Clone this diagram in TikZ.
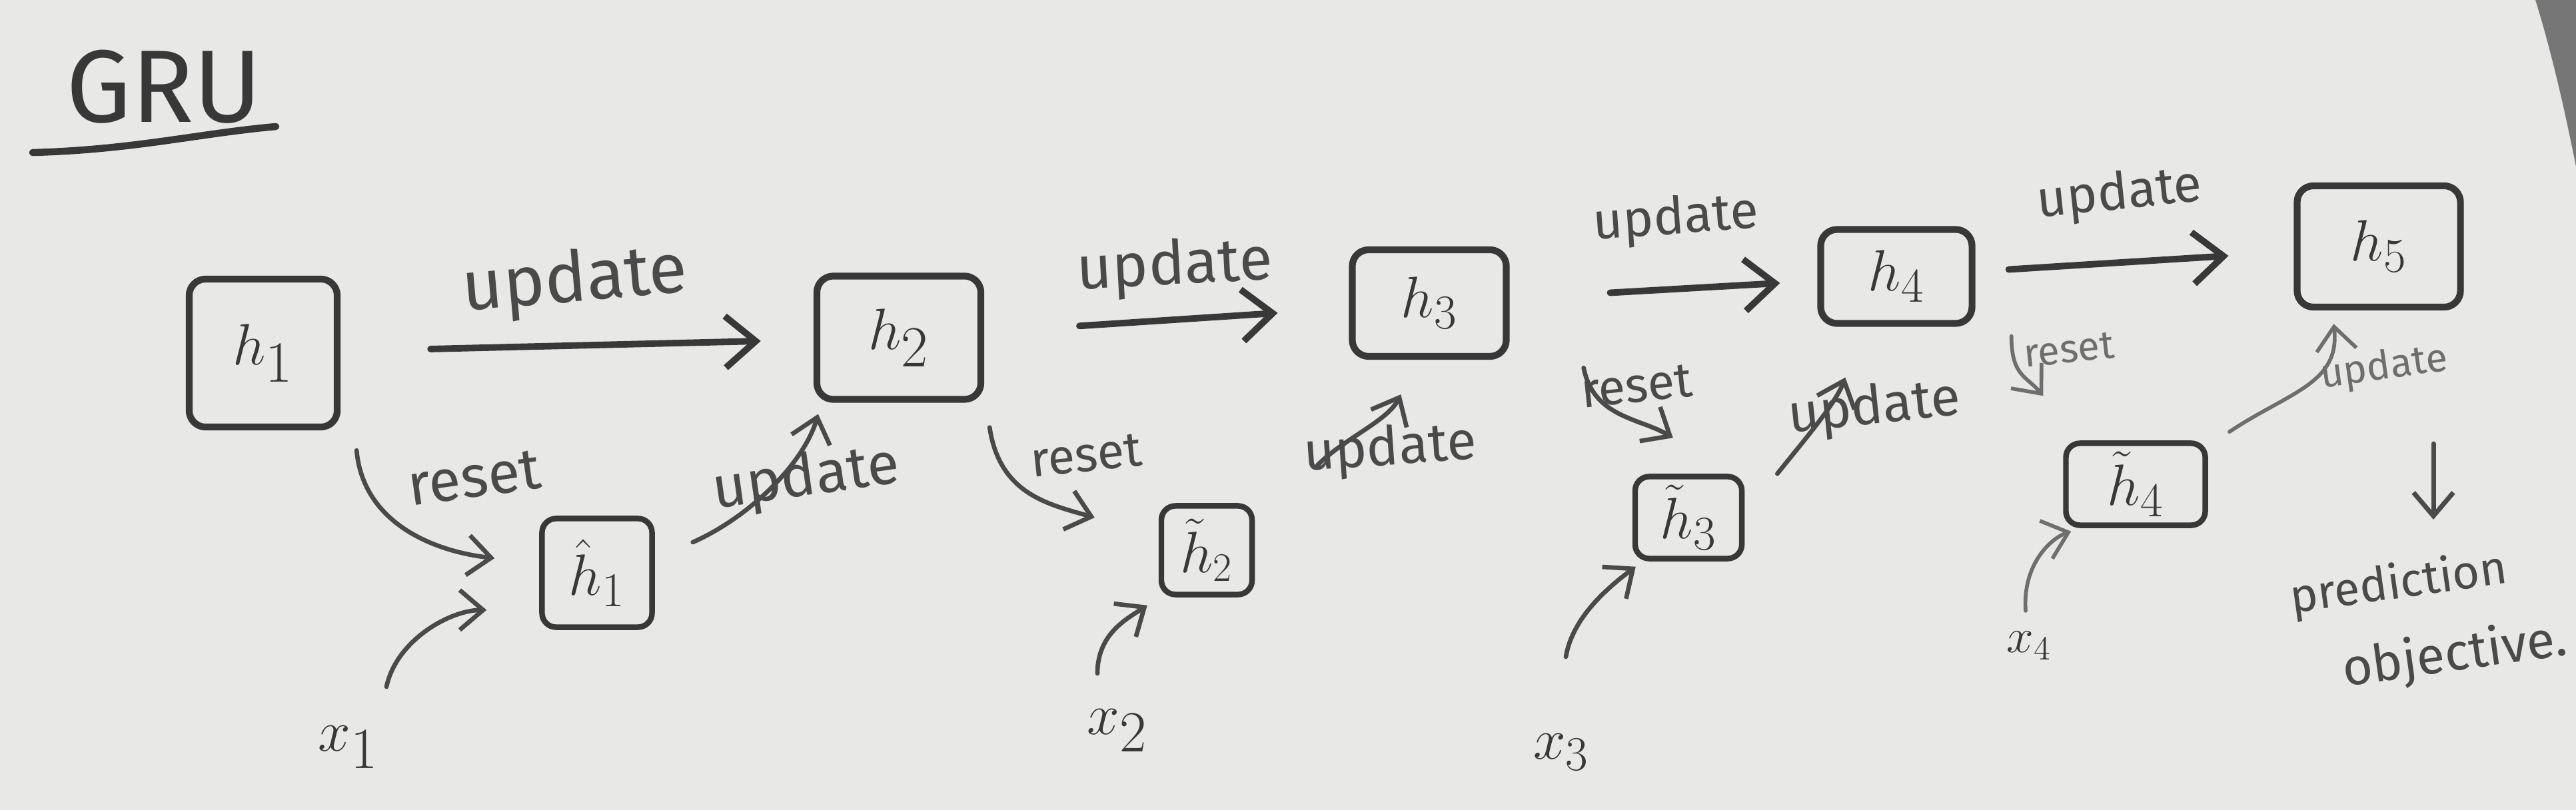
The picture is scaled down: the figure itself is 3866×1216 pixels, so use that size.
\documentclass[tikz,border=0pt]{standalone}
\usepackage{fontspec}
\setmainfont{Fira Sans}
\usetikzlibrary{arrows.meta}
\definecolor{paper}{HTML}{E8E8E6}
\definecolor{pencil}{HTML}{383838}
\definecolor{pencilB}{HTML}{4A4A4A}
\definecolor{pencilC}{HTML}{6E6E6E}
\definecolor{shadow}{HTML}{767676}
\newcommand{\fsz}[1]{\fontsize{#1}{#1}\selectfont}
\begin{document}
\begin{tikzpicture}[x=0.01cm,y=-0.01cm,
  box/.style={draw=pencil, line width=2.9pt, rounded corners=7pt, inner sep=0pt, text=pencil},
  sbox/.style={box, line width=2.4pt, rounded corners=6pt},
  toparrow/.style={draw=pencil, line width=2.8pt, line cap=round,
    -{Straight Barb[length=13pt,width=22pt]}},
  gate/.style={draw=pencilB, line width=1.9pt, line cap=round,
    -{Straight Barb[length=10pt,width=17pt]}},
  faintgate/.style={gate, draw=pencilC, line width=1.6pt},
  word/.style={text=pencilB, inner sep=1pt},
  faintword/.style={text=pencilC, inner sep=1pt},
  inlbl/.style={text=pencil, inner sep=1pt}
]
\path[fill=paper] (0,0) rectangle (3866,1216);
\useasboundingbox (0,0) rectangle (3866,1216);
\fill[shadow] (3805,0) .. controls (3830,80) and (3850,170) .. (3866,250) -- (3866,0) -- cycle;

% title
\node[text=pencil, inner sep=0pt, font=\fsz{44}] (title) at (246,130) {GRU};
\draw[pencil, line width=3pt, line cap=round] (49,229) .. controls (200,225) and (300,200) .. (414,190);

% hidden states
\node[box, minimum width=2.22cm, minimum height=2.22cm, font=\fsz{36}] (h1) at (395,530) {$h_1$};
\node[box, minimum width=2.46cm, minimum height=1.85cm, font=\fsz{34}] (h2) at (1349,507) {$h_2$};
\node[box, minimum width=2.31cm, minimum height=1.60cm, font=\fsz{32}] (h3) at (2145,455) {$h_3$};
\node[box, minimum width=2.27cm, minimum height=1.41cm, font=\fsz{32}] (h4) at (2846,415) {$h_4$};
\node[box, minimum width=2.45cm, minimum height=1.82cm, font=\fsz{32}] (h5) at (3570,370) {$h_5$};

% candidate states
\node[sbox, minimum width=1.65cm, minimum height=1.63cm, font=\fsz{30}] (ht1) at (896,860) {$\hat{h}_1$};
\node[sbox, minimum width=1.36cm, minimum height=1.33cm, font=\fsz{26}] (ht2) at (1811,826) {$\tilde{h}_2$};
\node[sbox, minimum width=1.60cm, minimum height=1.23cm, font=\fsz{28}] (ht3) at (2534,777) {$\tilde{h}_3$};
\node[sbox, minimum width=2.09cm, minimum height=1.23cm, font=\fsz{28}] (ht4) at (3205,727) {$\tilde{h}_4$};

% inputs
\node[inlbl, font=\fsz{40}] (x1) at (523,1122) {$x_1$};
\node[inlbl, font=\fsz{36}] (x2) at (1677,1097) {$x_2$};
\node[inlbl, font=\fsz{30}] (x3) at (2343,1129) {$x_3$};
\node[inlbl, font=\fsz{22}] (x4) at (3045,969) {$x_4$};

% top update arrows
\draw[toparrow, shorten <=1.35cm, shorten >=0.79cm] (h1) -- (h2);
\draw[toparrow, shorten <=1.43cm, shorten >=1.07cm] (h2) -- (h3);
\draw[toparrow, shorten <=1.51cm, shorten >=0.56cm] (h3) -- (h4);
\draw[toparrow, shorten <=0.50cm, shorten >=0.98cm] (h4) -- (h5);

\node[word, font=\fsz{30}, rotate=5] (lu1) at (863,424) {update};
\node[word, font=\fsz{26}, rotate=3] (lu2) at (1763,402) {update};
\node[word, font=\fsz{22}, rotate=4] (lu3) at (2515,330) {update};
\node[word, font=\fsz{22}, rotate=6] (lu4) at (3181,293) {update};

% reset arrows
\draw[gate] ([shift={(24,30)}]h1.south east) .. controls +(10,110) and +(-90,-10) .. ([shift={(-67,-22)}]ht1.west);
\draw[gate] ([shift={(8,37)}]h2.south east) .. controls +(15,100) and +(-70,-20) .. ([shift={(-96,-49)}]ht2.west);
\draw[gate] ([shift={(111,12)}]h3.south east) .. controls +(15,75) and +(-50,-30) .. ([shift={(61,-54)}]ht3.north west);
\draw[faintgate] ([shift={(54,14)}]h4.south east) .. controls +(0,60) and +(-25,-30) .. ([shift={(-30,-67)}]ht4.north west);

\node[word, font=\fsz{25}, rotate=8] (lr1) at (712,718) {reset};
\node[word, font=\fsz{21}, rotate=6] (lr2) at (1630,684) {reset};
\node[word, font=\fsz{21}, rotate=6] (lr3) at (2456,580) {reset};
\node[faintword, font=\fsz{17}, rotate=6] (lr4) at (3105,525) {reset};

% update arrows from candidates
\draw[gate] ([shift={(57,-46)}]ht1.east) .. controls +(90,-40) and +(-20,70) .. ([shift={(7,17)}]h2.south west);
\draw[gate] ([shift={(94,-57)}]ht2.north east) .. controls +(40,-40) and +(-20,40) .. ([shift={(78,52)}]h3.south west);
\draw[gate] ([shift={(49,0)}]ht3.north east) .. controls +(40,-50) and +(-15,40) .. ([shift={(42,76)}]h4.south west);
\draw[faintgate] ([shift={(32,-13)}]ht4.north east) .. controls +(90,-60) and +(10,90) .. ([shift={(60,20)}]h5.south west);

\node[word, font=\fsz{25}, rotate=8] (lc1) at (1210,720) {update};
\node[word, font=\fsz{23}, rotate=4] (lc2) at (2086,676) {update};
\node[word, font=\fsz{23}, rotate=6] (lc3) at (2813,614) {update};
\node[faintword, font=\fsz{17}, rotate=8] (lc4) at (3578,553) {update};

% input arrows
\draw[gate] ([shift={(57,-91)}]x1.center) .. controls +(15,-70) and +(-55,0) .. ([shift={(-79,-30)}]ht1.south west);
\draw[gate] ([shift={(-30,-86)}]x2.center) .. controls +(0,-60) and +(-30,20) .. ([shift={(-17,12)}]ht2.south west);
\draw[gate] ([shift={(7,-143)}]x3.center) .. controls +(10,-60) and +(-40,30) .. ([shift={(5,8)}]ht3.south west);
\draw[faintgate] ([shift={(-5,-52)}]x4.center) .. controls +(-5,-70) and +(-30,10) .. ([shift={(12,5)}]ht4.south west);

% output
\node[word, font=\fsz{20}, rotate=8] (pred) at (3600,878) {prediction};
\node[word, font=\fsz{22}, rotate=8] (obj) at (3684,985) {objective.};
\draw[gate, line width=2pt] ([shift={(82,200)}]h5.south) -- ([shift={(52,-98)}]pred.center);
\end{tikzpicture}
\end{document}
